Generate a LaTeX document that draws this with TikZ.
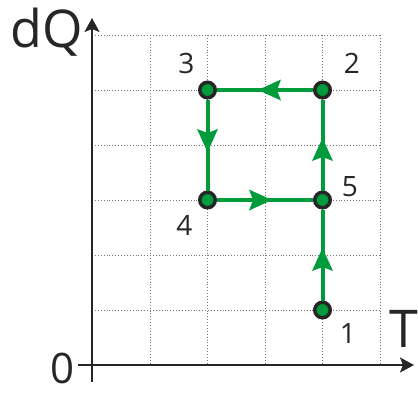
\documentclass[tikz,border=0pt]{standalone}
\usepackage{fontspec}
\setmainfont{Open Sans}
\usetikzlibrary{arrows.meta,decorations.markings}
\definecolor{pgreen}{RGB}{0,155,58}
\definecolor{gridgray}{RGB}{120,120,120}
\tikzset{
  gridline/.style={gridgray, line width=0.9pt, dotted},
  axisline/.style={black!85, line width=1.5pt},
  pt/.style={circle, draw=black!85, line width=3.5pt, fill=pgreen, minimum size=15.5pt, inner sep=0pt},
  flow/.style={pgreen, line width=4pt, postaction={decorate},
    decoration={markings, mark=at position 0.5 with {\fill[pgreen] (7pt,0pt) -- (-16pt,10.5pt) -- (-12pt,0pt) -- (-16pt,-10.5pt) -- cycle;}}},
  numlabel/.style={font=\fontsize{28}{30}\selectfont, text=black!85, inner sep=0pt},
  biglabel/.style={font=\fontsize{52}{56}\selectfont, text=black!85, inner sep=0pt}
}
\begin{document}
\begin{tikzpicture}[x=1pt,y=-1pt]
\useasboundingbox (0,0) rectangle (418,392);
% grid
\foreach \gx in {150,207.5,265,322.5,380} \draw[gridline] (\gx,35) -- (\gx,365);
\foreach \gy in {35,90,145,200,255,310} \draw[gridline] (92,\gy) -- (380,\gy);
% axes
\coordinate (yb) at (92,382);
\coordinate (yt) at (92,18);
\coordinate (xl) at (78,365);
\coordinate (xr) at (414,365);
\draw[axisline, -{Stealth[length=14pt,width=15pt,inset=3pt]}] (yb) -- (yt);
\draw[axisline, -{Stealth[length=14pt,width=15pt,inset=3pt]}] (xl) -- (xr);
% axis labels
\node[biglabel, anchor=base west] (dq) at (10,47) {dQ};
\node[biglabel, anchor=base east] (tl) at (418,347) {T};
\node[font=\fontsize{42}{44}\selectfont, text=black!85, inner sep=0pt, anchor=base west] (zero) at (50,383) {0};
% points
\node[pt] (p1) at (322.5,310) {};
\node[pt] (p2) at (322.5,90) {};
\node[pt] (p3) at (207.5,90) {};
\node[pt] (p4) at (207.5,200) {};
\node[pt] (p5) at (322.5,200) {};
% connectors
\draw[flow] (p1) -- (p5);
\draw[flow] (p5) -- (p2);
\draw[flow] (p2) -- (p3);
\draw[flow] (p3) -- (p4);
\draw[flow] (p4) -- (p5);
% labels
\node[numlabel] (l1) at (348,333) {1};
\node[numlabel] (l2) at (352,63) {2};
\node[numlabel] (l3) at (186.5,63) {3};
\node[numlabel] (l4) at (184.5,225) {4};
\node[numlabel] (l5) at (350,187) {5};
\end{tikzpicture}
\end{document}
